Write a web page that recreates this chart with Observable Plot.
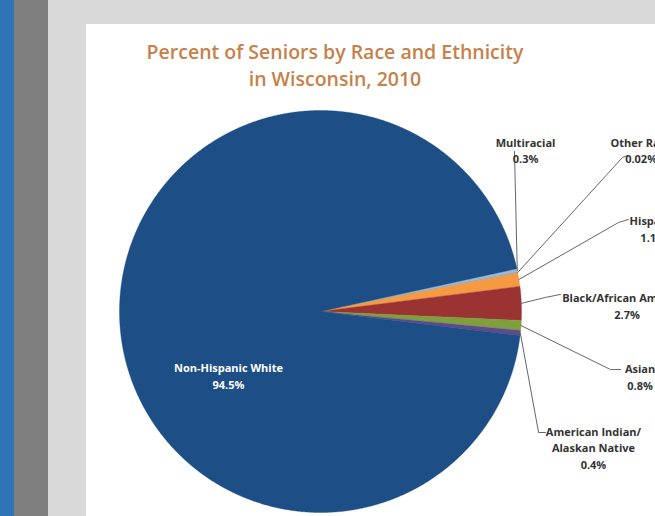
<!DOCTYPE html>
<html><head><meta charset="utf-8">
<script src="https://cdn.jsdelivr.net/npm/d3@7"></script>
<script src="https://cdn.jsdelivr.net/npm/@observablehq/plot@0.6"></script>
<style>
body{margin:0;}
#wrap{position:relative;width:655px;height:516px;overflow:hidden;background:#d9d9d9;}
.s1{position:absolute;left:0;top:0;width:14px;height:516px;background:#2f74b5}
.s2{position:absolute;left:14px;top:0;width:34px;height:516px;background:#7f7f7f}
.panel{position:absolute;left:86px;top:24px;right:0;bottom:0;background:#fff}
#title{position:absolute;left:0;width:670px;top:38px;text-align:center;color:#c6814a;
  font-family:"Open Sans",sans-serif;font-weight:600;font-size:19.5px;line-height:27px;}
#chart{position:absolute;left:0;top:0;}
</style></head>
<body>
<div id="wrap">
  <div class="s1"></div><div class="s2"></div><div class="panel"></div>
  <div id="chart"></div>
  <div id="title">Percent of Seniors by Race and Ethnicity<br>in Wisconsin, 2010</div>
</div>
<script>
// ---- data ----
const categories = ["Multiracial","Other Race","Hispanic","Black/African American","Asian","American Indian/Alaskan Native","Non-Hispanic White"];
const values = [0.3, 0.02, 1.1, 2.7, 0.8, 0.4, 94.5];
const valueLabels = ["0.3%","0.02%","1.1%","2.7%","0.8%","0.4%","94.5%"];
const labelNames = ["Multiracial","Other Race","Hispanic","Black/African American","Asian","American Indian/\nAlaskan Native","Non-Hispanic White"];
const colors = ["#9bb7dc","#4bacc6","#f59a43","#9b3332","#7f9f3d","#5f4b8b","#1d4e86"];

// ---- layout (pie-radius units, center = 0,0) ----
const startDeg = -12.3;
const labelPos = [[1.02,-0.806],[1.595,-0.806],[1.655,-0.415],[1.525,-0.032],[1.59,0.321],[1.358,0.674],[-0.458,0.316]];
const leaderPts = [
  [[0.965,-0.796]],
  [[1.502,-0.766],[1.527,-0.776]],
  [[1.483,-0.443],[1.532,-0.458]],
  [[1.119,-0.070],[1.194,-0.085]],
  [[1.443,0.289],[1.493,0.289]],
  [[1.085,0.602],[1.119,0.602]],
  null
];
const cx = 320, cy = 311, r = 201;

const total = d3.sum(values);
let acc = startDeg;
const slices = [], leaders = [], labels = [];
categories.forEach((name, i) => {
  const a0 = acc, a1 = acc + values[i] / total * 360;
  acc = a1;
  const steps = Math.max(2, Math.ceil((a1 - a0) / 0.25));
  slices.push({name, x: 0, y: 0});
  for (let k = 0; k <= steps; k++) {
    const a = (a0 + (a1 - a0) * k / steps) * Math.PI / 180;
    slices.push({name, x: Math.cos(a), y: Math.sin(a)});
  }
  slices.push({name, x: 0, y: 0});
  const mid = (a0 + a1) / 2 * Math.PI / 180;
  if (leaderPts[i]) {
    leaders.push({name, x: Math.cos(mid), y: Math.sin(mid)});
    leaderPts[i].forEach(([x, y]) => leaders.push({name, x, y}));
  }
  labels.push({name, x: labelPos[i][0], y: labelPos[i][1], text: labelNames[i] + "\n" + valueLabels[i], white: i === 6});
});

const chart = Plot.plot({
  width: 655, height: 516,
  margin: 0,
  style: {background: "transparent", overflow: "hidden"},
  x: {domain: [-1, 1], range: [cx - r, cx + r], axis: null},
  y: {domain: [-1, 1], range: [cy - r, cy + r], axis: null},
  color: {domain: categories, range: colors},
  marks: [
    Plot.line(slices, {x: "x", y: "y", z: "name", fill: "name", stroke: "name", strokeWidth: 0.4, curve: "linear"}),
    Plot.line(leaders, {x: "x", y: "y", z: "name", stroke: "#666666", strokeWidth: 1, curve: "linear"}),
    Plot.text(labels, {x: "x", y: "y", text: "text", fill: d => d.white ? "#ffffff" : "#333333",
      fontSize: 11, fontWeight: "bold", fontFamily: "Open Sans", lineHeight: 1.5, lineAnchor: "middle", textAnchor: "middle"})
  ]
});
document.getElementById("chart").appendChild(chart);
</script>
</body></html>
